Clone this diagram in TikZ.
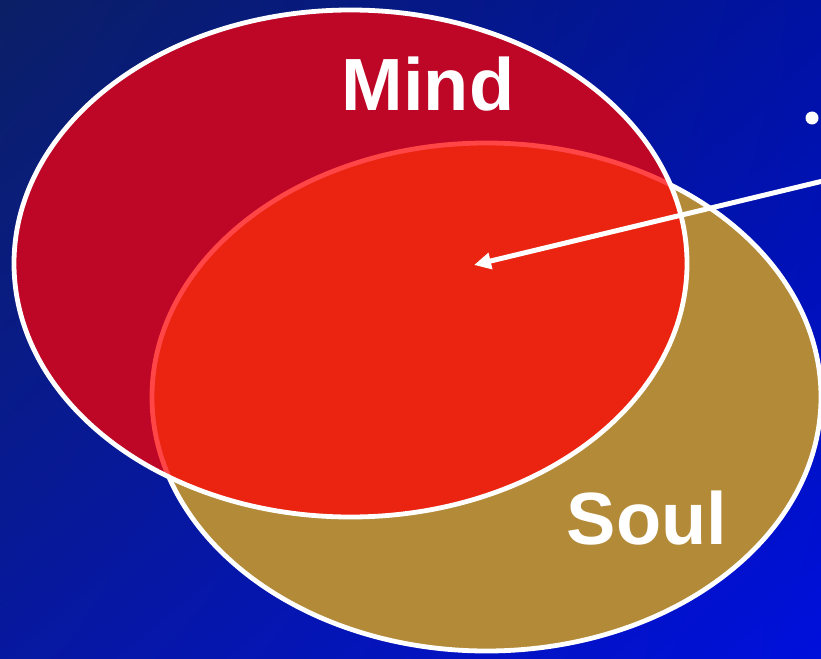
\documentclass[tikz,border=0pt]{standalone}
\usepackage{fontspec}
\setmainfont{Liberation Sans}
\usetikzlibrary{arrows.meta,shadings}
\definecolor{bgUL}{HTML}{0B1F66}
\definecolor{bgUR}{HTML}{0012A2}
\definecolor{bgLL}{HTML}{0718A0}
\definecolor{bgLR}{HTML}{0010DC}
\definecolor{soulgold}{HTML}{B38A38}
\definecolor{mindred}{HTML}{BE0626}
\definecolor{bothred}{HTML}{EA2410}
\definecolor{edgered}{HTML}{FF4545}
\tikzset{
  outline/.style={draw=white, line width=4.8pt},
  label/.style={text=white, font=\bfseries\fontsize{74}{74}\selectfont, inner sep=0pt},
  pointer/.style={draw=white, line width=5pt, -{Triangle[length=17pt, width=16pt]}},
}
\begin{document}
\begin{tikzpicture}[x=1pt, y=-1pt]
\useasboundingbox (0,0) rectangle (821,658);
\shade[upper left=bgUL, upper right=bgUR, lower left=bgLL, lower right=bgLR] (0,0) rectangle (821,658);
% Soul
\fill[soulgold] (486.5,397) ellipse [x radius=334.5, y radius=254];
\draw[outline] (486.5,397) ellipse [x radius=334.5, y radius=254];
% Mind
\fill[mindred] (350.5,263.5) ellipse [x radius=336.5, y radius=253.5];
% intersection
\begin{scope}
  \clip (350.5,263.5) ellipse [x radius=336.5, y radius=253.5];
  \fill[bothred] (486.5,397) ellipse [x radius=334.5, y radius=254];
  \draw[edgered, line width=4.8pt] (486.5,397) ellipse [x radius=334.5, y radius=254];
\end{scope}
\draw[outline] (350.5,263.5) ellipse [x radius=336.5, y radius=253.5];
% labels
\node[label] (mind) at (428,84) {Mind};
\node[label] (soul) at (647,518) {Soul};
% bullet dot
\fill[white] (812,118) circle [radius=6.5];
\node[inner sep=0pt, minimum size=0pt] (dot) at (812,118) {};
% arrow
\coordinate (from) at (823,181);
\coordinate (to) at (474,265);
\draw[pointer] (from) -- (to);
\end{tikzpicture}
\end{document}
